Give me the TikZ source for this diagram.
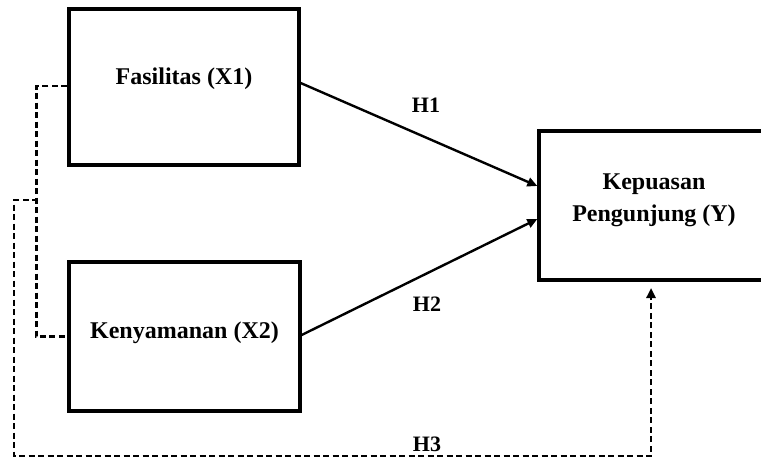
\documentclass[tikz,border=0pt]{standalone}
\usepackage{fontspec}
\setmainfont{Liberation Serif}
\usetikzlibrary{arrows.meta}
\begin{document}
\begin{tikzpicture}[x=1pt,y=-1pt,
  box/.style={draw, line width=3.3pt, inner sep=0pt},
  lbl/.style={font=\fontsize{24}{32}\selectfont\bfseries, inner sep=0pt},
  hl/.style={font=\fontsize{22}{26}\selectfont\bfseries, inner sep=0pt},
  tip/.style={-{Triangle[length=10pt,width=9pt]}},
  arr/.style={line width=2.4pt, tip},
  dsh/.style={line width=2.4pt, dash pattern=on 6pt off 3.5pt}]
\useasboundingbox (0,0) rectangle (761,461);
\clip (0,0) rectangle (761,461);
\fill[white] (0,0) rectangle (761,461);
% boxes
\node[box, minimum width=230pt, minimum height=156pt] (x1) at (184,87) {};
\node[lbl] (t1) at (184,79) {Fasilitas (X1)};
\node[box, minimum width=231pt, minimum height=149pt] (x2) at (184.5,336.5) {};
\node[lbl] (t2) at (184.5,333) {Kenyamanan (X2)};
\node[box, minimum width=230pt, minimum height=149pt] (y) at (654,205.5) {};
\node[lbl, align=center] (ty) at (654,200) {Kepuasan\\Pengunjung (Y)};
% solid arrows
\draw[arr] ([yshift=4pt]x1.east) -- ([yshift=19.5pt]y.west);
\draw[arr] ([yshift=1.5pt]x2.east) -- ([yshift=-13.5pt]y.west);
% labels
\node[hl] (h1) at (426,105) {H1};
\node[hl] (h2) at (427,304) {H2};
\node[hl] (h3) at (427,444) {H3};
% dashed connectors
\coordinate (jn) at (38,200);
\coordinate (jl) at (14,200);
\coordinate (cb) at (14,456);
\coordinate (cr) at (651,456);
\coordinate (ye) at (651,288);
\draw[dsh] ([yshift=1pt]x1.west) -- ++(-31,0) |- (x2.west);
\draw[dsh, tip] (jn) -- (jl) -- (cb) -- (cr) -- (ye);
\end{tikzpicture}
\end{document}
